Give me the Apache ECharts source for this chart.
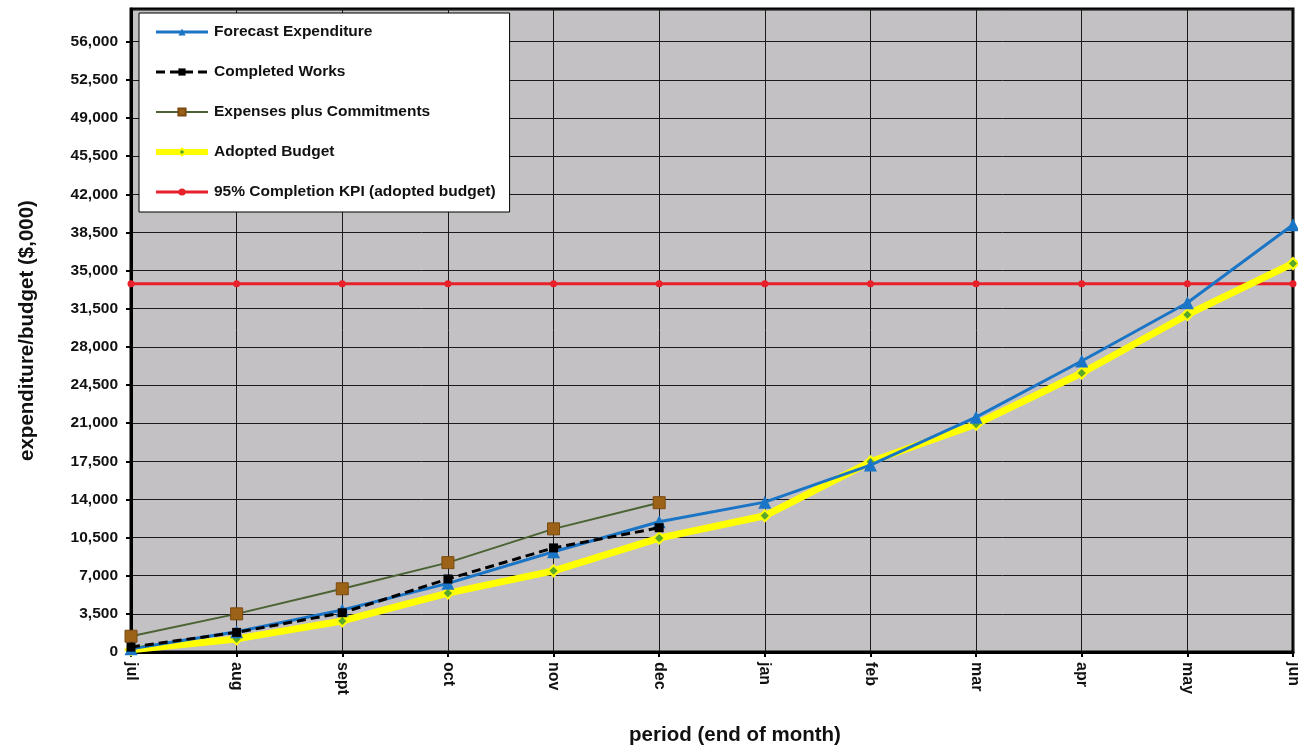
<!DOCTYPE html>
<html>
<head>
<meta charset="utf-8">
<script src="https://cdn.jsdelivr.net/npm/echarts@6/dist/echarts.min.js"></script>
<style>
  html, body { margin: 0; padding: 0; background: #fff; }
  #chart { width: 1298px; height: 748px; }
</style>
</head>
<body>
<div id="chart"></div>
<script>
// months (end of month)
const months = ['jul', 'aug', 'sept', 'oct', 'nov', 'dec', 'jan', 'feb', 'mar', 'apr', 'may', 'jun']

// values in $,000
const forecast = [300, 1850, 3850, 6300, 9200, 11950, 13750, 17150, 21550, 26700, 32050, 39200]
const completed = [450, 1800, 3600, 6700, 9550, 11400]
const expenses = [1450, 3500, 5800, 8200, 11300, 13700]
const adopted = [200, 1200, 2850, 5400, 7450, 10450, 12500, 17450, 20900, 25600, 30950, 35650]
const kpi = [33800, 33800, 33800, 33800, 33800, 33800, 33800, 33800, 33800, 33800, 33800, 33800]

const font = 'Liberation Sans, Arial, sans-serif'

let chart = echarts.init(document.getElementById('chart'))
chart.setOption({
  animation: false,
  textStyle: { fontFamily: font },
  grid: {
    left: 131,
    right: 5,
    top: 9,
    bottom: 96,
    outerBoundsMode: 'none',
    show: true,
    backgroundColor: '#c3c1c3',
    borderColor: '#000',
    borderWidth: 3
  },
  legend: {
    orient: 'vertical',
    left: 139,
    top: 13,
    padding: [11, 14, 12, 14],
    itemGap: 24,
    itemWidth: 52,
    itemHeight: 9,
    backgroundColor: '#fff',
    borderColor: '#000',
    borderWidth: 1,
    textStyle: { color: '#111', fontSize: 15.5, fontWeight: 'bold', fontFamily: font, padding: [0, 0, 0, 1] },
    data: [
      { name: 'Forecast Expenditure', lineStyle: { width: 3 } },
      { name: 'Completed Works', lineStyle: { width: 3 } },
      { name: 'Expenses plus Commitments', lineStyle: { width: 2 } },
      { name: 'Adopted Budget', lineStyle: { width: 6 } },
      { name: '95% Completion KPI (adopted budget)', lineStyle: { width: 3 } }
    ]
  },
  xAxis: {
    type: 'category',
    boundaryGap: false,
    data: months,
    name: 'period (end of month)',
    nameLocation: 'middle',
    nameGap: 73,
    nameTextStyle: { fontSize: 20.5, fontWeight: 'bold', color: '#111', padding: [0, 0, 0, 46] },
    axisLine: { lineStyle: { color: '#000', width: 3 } },
    axisTick: { show: true, length: 5, lineStyle: { color: '#000', width: 2 } },
    axisLabel: {
      rotate: -90,
      margin: 10,
      color: '#111',
      fontSize: 16,
      fontWeight: 'bold'
    },
    splitLine: { show: true, lineStyle: { color: '#1a1a1a', width: 1 } }
  },
  yAxis: {
    type: 'value',
    min: 0,
    max: 59000,
    interval: 3500,
    name: 'expenditure/budget ($,000)',
    nameLocation: 'middle',
    nameGap: 93,
    nameTextStyle: { fontSize: 20.5, fontWeight: 'bold', color: '#111' },
    axisLine: { show: true, lineStyle: { color: '#000', width: 3 } },
    axisTick: { show: true, length: 5, lineStyle: { color: '#000', width: 2 } },
    axisLabel: {
      color: '#111',
      fontSize: 15.5,
      fontWeight: 'bold',
      margin: 13,
      showMaxLabel: false,
      formatter: function (v) {
        return v.toLocaleString('en-US')
      }
    },
    splitLine: { show: true, lineStyle: { color: '#1a1a1a', width: 1 } }
  },
  series: [
    {
      name: '95% Completion KPI (adopted budget)',
      type: 'line',
      data: kpi,
      symbol: 'circle',
      symbolSize: 7,
      color: '#e8202a',
      lineStyle: { color: '#e8202a', width: 3 },
      itemStyle: { color: '#e8202a' },
      z: 2
    },
    {
      name: 'Expenses plus Commitments',
      type: 'line',
      data: expenses,
      symbol: 'rect',
      symbolSize: 12,
      color: '#9c6218',
      lineStyle: { color: '#4b6233', width: 2 },
      itemStyle: { color: '#9c6218', borderColor: '#7a4a10', borderWidth: 1 },
      z: 3
    },
    {
      name: 'Adopted Budget',
      type: 'line',
      data: adopted,
      symbol: 'diamond',
      symbolSize: 11,
      color: '#5aa82a',
      lineStyle: { color: '#ffff00', width: 7 },
      itemStyle: { color: '#5aa82a', borderColor: '#ffff00', borderWidth: 2 },
      z: 4
    },
    {
      name: 'Forecast Expenditure',
      type: 'line',
      data: forecast,
      symbol: 'triangle',
      symbolSize: 13,
      color: '#1b75c6',
      lineStyle: { color: '#1b75c6', width: 3 },
      itemStyle: { color: '#1b75c6' },
      z: 5
    },
    {
      name: 'Completed Works',
      type: 'line',
      data: completed,
      symbol: 'rect',
      symbolSize: 9,
      color: '#000',
      lineStyle: { color: '#000', width: 3, type: [9, 5] },
      itemStyle: { color: '#000' },
      z: 6
    }
  ]
})
</script>
</body>
</html>
